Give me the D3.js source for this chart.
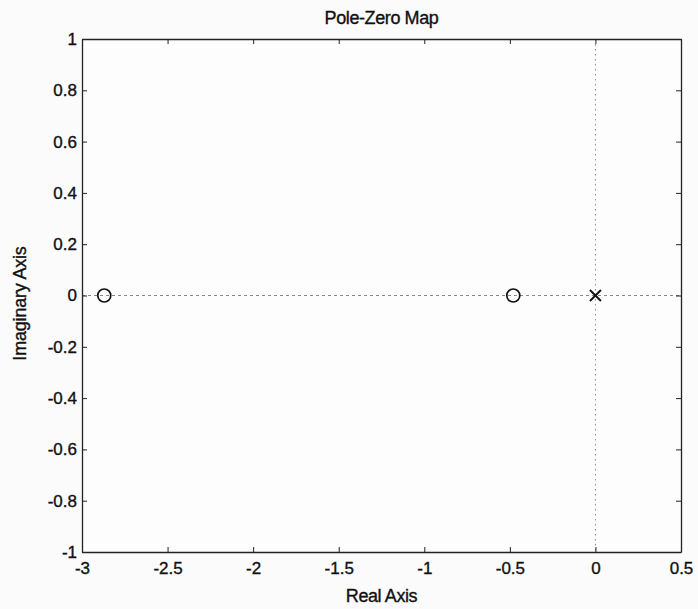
<!DOCTYPE html>
<html>
<head>
<meta charset="utf-8">
<script src="https://cdn.jsdelivr.net/npm/d3@7"></script>
<style>
  body { margin: 0; background: #fbfbfb; }
  text { font-family: Arial, "Liberation Sans", sans-serif; fill: #111; stroke: #111; stroke-width: 0.35px; }
</style>
</head>
<body>
<div id="chart"></div>
<script>
// pole-zero data
const zerosRe = [-2.87, -0.48];
const zerosIm = [0, 0];
const polesRe = [0];
const polesIm = [0];

const xTicks = [-3, -2.5, -2, -1.5, -1, -0.5, 0, 0.5];
const yTicks = [-1, -0.8, -0.6, -0.4, -0.2, 0, 0.2, 0.4, 0.6, 0.8, 1];

const width = 698, height = 609;
const margin = { top: 39, right: 17, bottom: 57, left: 82 };

const svg = d3.select("#chart").append("svg")
  .attr("width", width)
  .attr("height", height);

const x = d3.scaleLinear().domain([-3, 0.5]).range([margin.left, width - margin.right]);
const y = d3.scaleLinear().domain([-1, 1]).range([height - margin.bottom, margin.top]);

// background of plot
svg.append("rect")
  .attr("x", x(-3)).attr("y", y(1))
  .attr("width", x(0.5) - x(-3)).attr("height", y(-1) - y(1))
  .attr("fill", "#fdfdfd");

// dashed reference lines at re=0 and im=0
svg.append("line")
  .attr("x1", x(-3)).attr("x2", x(0.5))
  .attr("y1", y(0)).attr("y2", y(0))
  .attr("stroke", "#888").attr("stroke-width", 1)
  .attr("stroke-dasharray", "3,3");

svg.append("line")
  .attr("x1", x(0)).attr("x2", x(0))
  .attr("y1", y(1)).attr("y2", y(-1))
  .attr("stroke", "#888").attr("stroke-width", 1)
  .attr("stroke-dasharray", "1.5,3.5");

// axes, ticks pointing inwards like matlab
const fmt = d => String(d);
const tickLen = 5;

svg.append("g")
  .attr("transform", `translate(0,${y(-1)})`)
  .call(d3.axisBottom(x).tickValues(xTicks).tickFormat(fmt).tickSizeInner(-tickLen).tickSizeOuter(0).tickPadding(10));

svg.append("g")
  .attr("transform", `translate(0,${y(1)})`)
  .call(d3.axisTop(x).tickValues(xTicks).tickFormat("").tickSizeInner(-tickLen).tickSizeOuter(0));

svg.append("g")
  .attr("transform", `translate(${x(-3)},0)`)
  .call(d3.axisLeft(y).tickValues(yTicks).tickFormat(fmt).tickSizeInner(-tickLen).tickSizeOuter(0).tickPadding(5));

svg.append("g")
  .attr("transform", `translate(${x(0.5)},0)`)
  .call(d3.axisRight(y).tickValues(yTicks).tickFormat("").tickSizeInner(-tickLen).tickSizeOuter(0));

svg.selectAll(".domain").attr("stroke", "#222").attr("stroke-width", 1.3);
svg.selectAll(".tick line").attr("stroke", "#222").attr("stroke-width", 1);
svg.selectAll(".tick text")
  .attr("font-size", 17)
  .attr("font-family", "Arial, 'Liberation Sans', sans-serif")
  .attr("fill", "#111");

// zeros
svg.selectAll(".zero")
  .data(zerosRe)
  .enter().append("circle")
  .attr("class", "zero")
  .attr("cx", d => x(d))
  .attr("cy", (d, i) => y(zerosIm[i]))
  .attr("r", 6.5)
  .attr("fill", "none")
  .attr("stroke", "#111")
  .attr("stroke-width", 1.7);

// poles
const s = 5.5;
svg.selectAll(".pole")
  .data(polesRe)
  .enter().append("path")
  .attr("class", "pole")
  .attr("d", (d, i) => {
    const cx = x(d), cy = y(polesIm[i]);
    return `M${cx - s},${cy - s}L${cx + s},${cy + s}M${cx - s},${cy + s}L${cx + s},${cy - s}`;
  })
  .attr("stroke", "#111")
  .attr("stroke-width", 1.9)
  .attr("fill", "none");

// title and axis labels
svg.append("text")
  .attr("x", (x(-3) + x(0.5)) / 2)
  .attr("y", 24)
  .attr("text-anchor", "middle")
  .attr("font-size", 18)
  .attr("letter-spacing", "-0.4")
  .text("Pole-Zero Map");

svg.append("text")
  .attr("x", (x(-3) + x(0.5)) / 2)
  .attr("y", 602)
  .attr("text-anchor", "middle")
  .attr("font-size", 18)
  .attr("letter-spacing", "-0.4")
  .text("Real Axis");

svg.append("text")
  .attr("transform", `translate(26,${(y(1) + y(-1)) / 2 + 8}) rotate(-90)`)
  .attr("text-anchor", "middle")
  .attr("font-size", 18)
  .attr("letter-spacing", "-0.2")
  .text("Imaginary Axis");
</script>
</body>
</html>
